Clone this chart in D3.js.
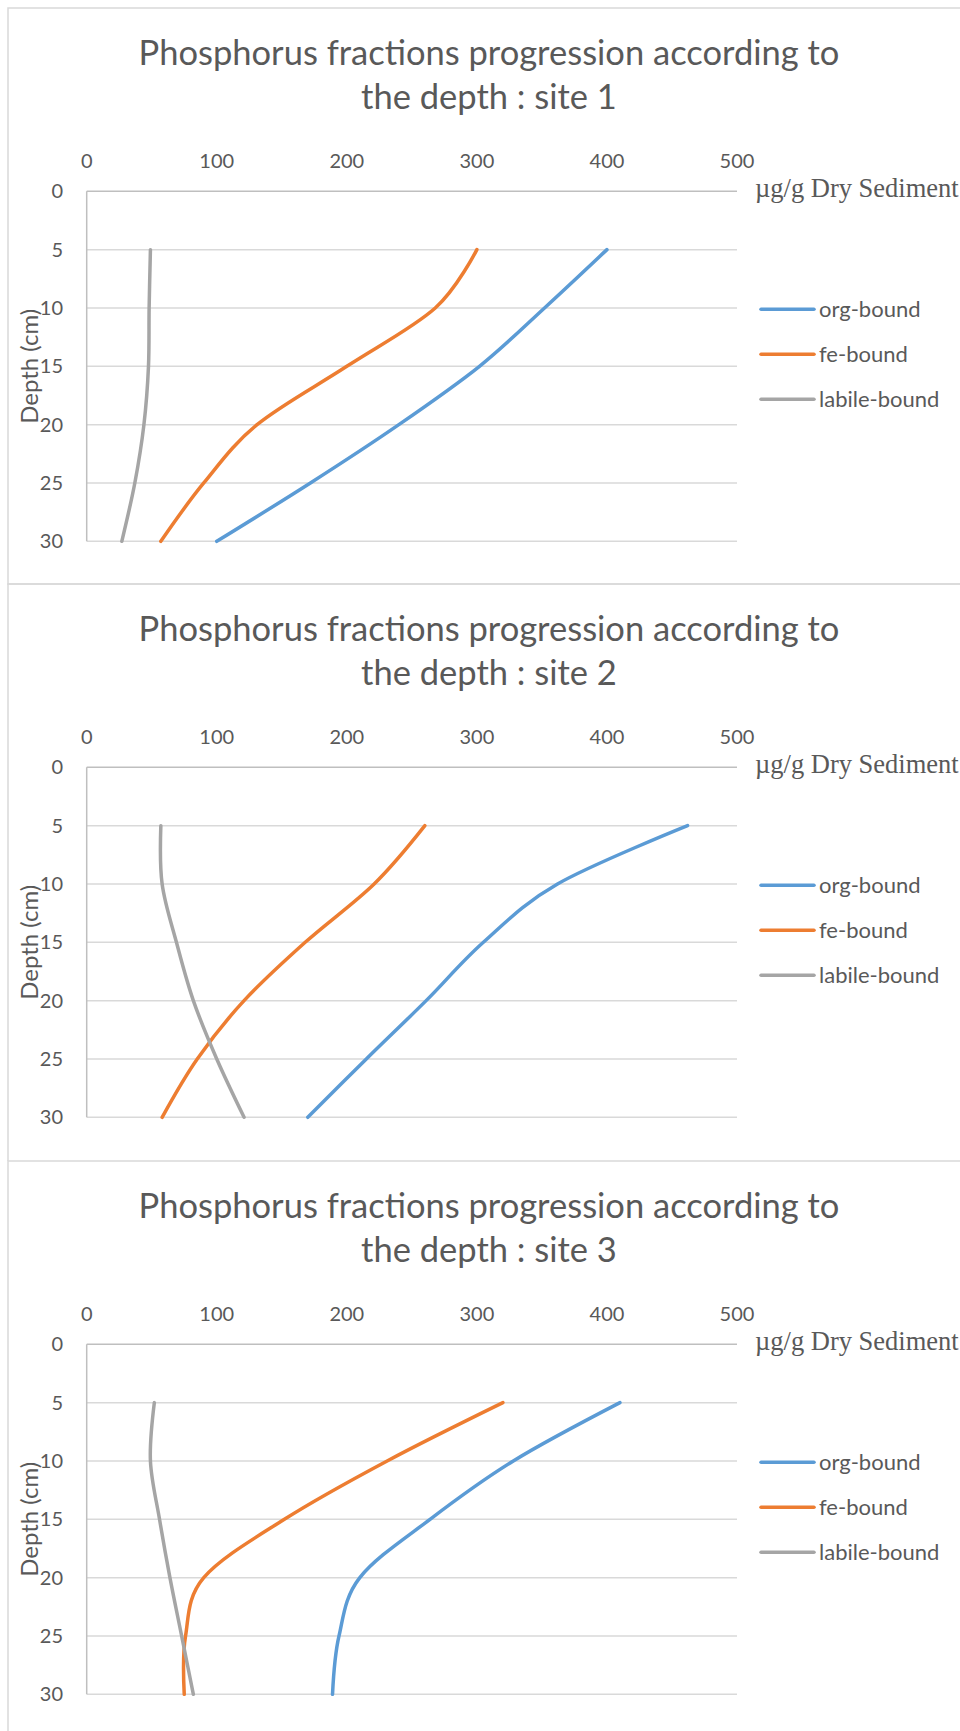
<!DOCTYPE html>
<html>
<head>
<meta charset="utf-8">
<script src="https://cdn.jsdelivr.net/npm/d3@7"></script>
<style>
  body { margin: 0; background: #fff; }
  svg { display: block; }
  text { fill: #595959; }
</style>
</head>
<body>
<svg width="960" height="1731"></svg>
<script>
// depths (cm) shared by all three sites
var depths = [5, 10, 15, 20, 25, 30];
var xTicks = [0, 100, 200, 300, 400, 500];
var yTicks = [0, 5, 10, 15, 20, 25, 30];
var seriesNames = ["org-bound", "fe-bound", "labile-bound"];
var seriesColors = ["#5B9BD5", "#ED7D31", "#A5A5A5"];

// µg/g dry sediment
var site1Org = [400, 352, 302, 240, 172, 100];
var site1Fe = [300, 268, 200, 131, 90, 57];
var site1Labile = [49, 48, 47.5, 44, 37, 27];

var site2Org = [462, 362, 305, 261, 215, 170];
var site2Fe = [260, 221, 168, 121, 85, 58];
var site2Labile = [57, 58, 69, 82, 100, 121];

var site3Org = [410, 328, 264, 210, 194, 189];
var site3Fe = [320, 231, 152, 90, 76, 75];
var site3Labile = [52, 49, 56, 64, 73, 82];

var sites = [
  {name: "1", top: 8, series: [site1Org, site1Fe, site1Labile]},
  {name: "2", top: 584, series: [site2Org, site2Fe, site2Labile]},
  {name: "3", top: 1161, series: [site3Org, site3Fe, site3Labile]}
];

var svg = d3.select("svg");
var x = d3.scaleLinear().domain([0, 500]).range([86.7, 737]);

sites.forEach(function(site, i) {
  var g = svg.append("g").attr("transform", "translate(0," + site.top + ")");
  var plotTop = 183.3, plotH = 350;
  var y = d3.scaleLinear().domain([0, 30]).range([plotTop, plotTop + plotH]);

  // panel border
  g.append("path")
    .attr("d", "M" + 8 + "," + (i == 2 ? 1731 : 577) + "V0H970")
    .attr("fill", "none")
    .attr("stroke", "#d9d9d9")
    .attr("stroke-width", 1.5);
  if (i == 0) {
    g.append("line").attr("x1", 8).attr("x2", 970).attr("y1", 576).attr("y2", 576)
      .attr("stroke", "#d9d9d9").attr("stroke-width", 1.5);
  }

  // title
  var title = g.append("text")
    .attr("text-anchor", "middle")
    .style("font-family", "Lato")
    .style("font-size", "34.5px");
  title.append("tspan").attr("x", 489).attr("y", 56.5).text("Phosphorus fractions progression according to");
  title.append("tspan").attr("x", 489).attr("y", 100.5).text("the depth : site " + site.name);

  // gridlines
  g.selectAll(".grid")
    .data(yTicks)
    .enter().append("line")
    .attr("x1", x(0)).attr("x2", x(500))
    .attr("y1", function(d) { return y(d); })
    .attr("y2", function(d) { return y(d); })
    .attr("stroke", function(d) { return d == 0 ? "#bfbfbf" : "#d9d9d9"; })
    .attr("stroke-width", 1.5);

  g.append("line")
    .attr("x1", x(0)).attr("x2", x(0))
    .attr("y1", y(0)).attr("y2", y(30))
    .attr("stroke", "#bfbfbf").attr("stroke-width", 1.5);

  // x tick labels (top)
  g.selectAll(".xt")
    .data(xTicks)
    .enter().append("text")
    .attr("x", function(d) { return x(d); })
    .attr("y", 160)
    .attr("text-anchor", "middle")
    .style("font-family", "Lato")
    .style("font-size", "20px")
    .text(function(d) { return d; });

  // y tick labels
  g.selectAll(".yt")
    .data(yTicks)
    .enter().append("text")
    .attr("x", 63)
    .attr("y", function(d) { return y(d); })
    .attr("dy", "0.35em")
    .attr("text-anchor", "end")
    .style("font-family", "Lato")
    .style("font-size", "20px")
    .text(function(d) { return d; });

  // y axis title
  g.append("text")
    .attr("transform", "translate(38," + (plotTop + plotH / 2) + ") rotate(-90)")
    .attr("text-anchor", "middle")
    .style("font-family", "Lato")
    .style("font-size", "24px")
    .text("Depth (cm)");

  // x axis title
  g.append("text")
    .attr("x", 755)
    .attr("y", plotTop + 5.5)
    .style("font-family", "Liberation Serif")
    .style("font-size", "26.5px")
    .text("µg/g Dry Sediment");

  // lines
  var line = d3.line()
    .x(function(d) { return x(d[0]); })
    .y(function(d) { return y(d[1]); })
    .curve(d3.curveCardinal.tension(0));

  site.series.forEach(function(vals, k) {
    g.append("path")
      .datum(vals.map(function(v, j) { return [v, depths[j]]; }))
      .attr("fill", "none")
      .attr("stroke", seriesColors[k])
      .attr("stroke-width", 3.5)
      .attr("stroke-linecap", "round")
      .attr("d", line);
  });

  // legend
  var legend = g.selectAll(".legend")
    .data(seriesNames)
    .enter().append("g")
    .attr("transform", function(d, k) { return "translate(761," + (plotTop + 118 + k * 45) + ")"; });
  legend.append("line")
    .attr("x1", 0).attr("x2", 53)
    .attr("stroke", function(d, k) { return seriesColors[k]; })
    .attr("stroke-width", 3.5)
    .attr("stroke-linecap", "round");
  legend.append("text")
    .attr("x", 58)
    .attr("dy", "0.35em")
    .style("font-family", "Lato")
    .style("font-size", "22px")
    .text(function(d) { return d; });
});
</script>
</body>
</html>
